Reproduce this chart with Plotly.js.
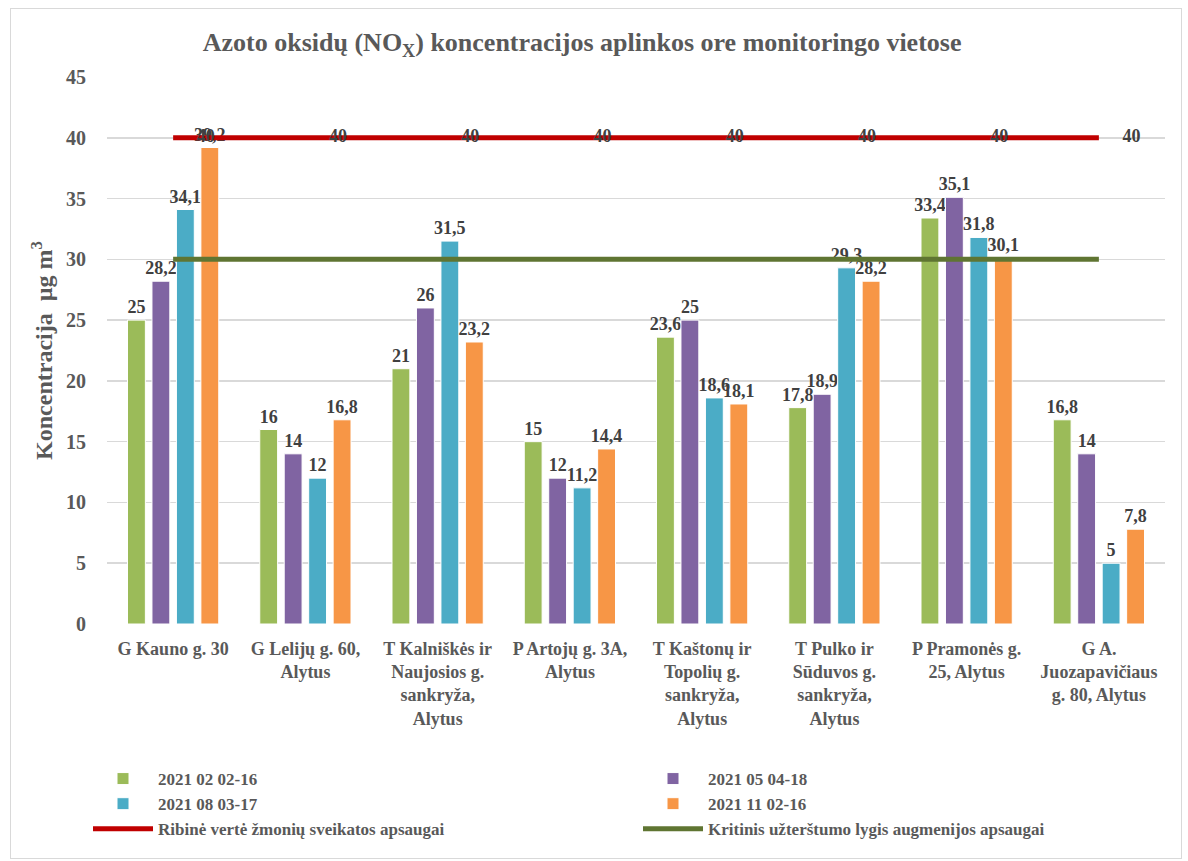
<!DOCTYPE html>
<html>
<head>
<meta charset="utf-8">
<script src="https://cdn.plot.ly/plotly-3.0.1.min.js"></script>
<style>
  html, body { margin: 0; padding: 0; background: #ffffff; }
  #frame { position: absolute; left: 10px; top: 8px; width: 1172px; height: 851px; border: 1px solid #d9d9d9; box-sizing: border-box; pointer-events: none; }
  #chart { position: absolute; left: 0; top: 0; width: 1188px; height: 861px; }
</style>
</head>
<body>
<div id="chart"></div>
<div id="frame"></div>
<script>
// ---- data ----
const categories = [
  "G Kauno g. 30",
  "G Lelijų g. 60,<br>Alytus",
  "T Kalniškės ir<br>Naujosios g.<br>sankryža,<br>Alytus",
  "P Artojų g. 3A,<br>Alytus",
  "T Kaštonų ir<br>Topolių g.<br>sankryža,<br>Alytus",
  "T Pulko ir<br>Sūduvos g.<br>sankryža,<br>Alytus",
  "P Pramonės g.<br>25, Alytus",
  "G A.<br>Juozapavičiaus<br>g. 80, Alytus"
];
const seriesNames = ["2021 02 02-16", "2021 05 04-18", "2021 08 03-17", "2021 11 02-16"];
const vasaris = [25, 16, 21, 15, 23.6, 17.8, 33.4, 16.8];
const geguze  = [28.2, 14, 26, 12, 25, 18.9, 35.1, 14];
const rugpjutis = [34.1, 12, 31.5, 11.2, 18.6, 29.3, 31.8, 5];
const lapkritis = [39.2, 16.8, 23.2, 14.4, 18.1, 28.2, 30.1, 7.8];
const ribineName = "Ribinė vertė žmonių sveikatos apsaugai";
const ribine = [40, 40, 40, 40, 40, 40, 40, 40];
const kritinisName = "Kritinis užterštumo lygis augmenijos apsaugai";
const kritinis = [30, 30, 30, 30, 30, 30, 30, 30];
const yTicks = [0, 5, 10, 15, 20, 25, 30, 35, 40, 45];

// ---- styles ----
const FONT = "Liberation Serif, Times New Roman, serif";
const barColors = ["#9bbb59", "#8064a2", "#4bacc6", "#f79646"];
const fmt = v => String(v).replace(".", ",");
const labelFont = {family: FONT, size: 18, color: "#404040", weight: "bold"};

const seriesValues = [vasaris, geguze, rugpjutis, lapkritis];
const traces = seriesValues.map((vals, i) => ({
  type: "bar",
  name: seriesNames[i],
  x: categories,
  y: vals,
  text: vals.map(fmt),
  textposition: "outside",
  textangle: 0,
  constraintext: "none",
  cliponaxis: false,
  textfont: labelFont,
  outsidetextfont: labelFont,
  marker: {color: barColors[i], line: {color: "#ffffff", width: 1}},
  hoverinfo: "x+y"
}));

traces.push({
  type: "scatter",
  mode: "lines+markers+text",
  name: ribineName,
  x: categories,
  y: ribine,
  text: ribine.map(fmt),
  textposition: "middle right",
  textfont: labelFont,
  cliponaxis: false,
  line: {color: "#c00000", width: 5},
  marker: {size: 36, color: "rgba(0,0,0,0)"}
});
traces.push({
  type: "scatter",
  mode: "lines",
  name: kritinisName,
  x: categories,
  y: kritinis,
  cliponaxis: false,
  line: {color: "#5f7532", width: 5}
});

const layout = {
  width: 1188,
  height: 861,
  paper_bgcolor: "#ffffff",
  plot_bgcolor: "#ffffff",
  separators: ", ",
  margin: {l: 107, r: 23, t: 77, b: 237},
  font: {family: FONT, color: "#595959"},
  title: {
    text: "Azoto oksidų (NO<sub>X</sub>) koncentracijos aplinkos ore monitoringo vietose",
    font: {family: FONT, size: 26, color: "#595959", weight: "bold"},
    xref: "container", x: 0.49, xanchor: "center",
    yref: "container", y: 0.951, yanchor: "middle"
  },
  barmode: "group",
  bargap: 0.26,
  bargroupgap: 0.27,
  showlegend: true,
  legend: {
    orientation: "h",
    xref: "paper", x: -0.001, xanchor: "left",
    yref: "paper", y: -0.2505, yanchor: "top",
    entrywidth: 475, entrywidthmode: "pixels",
    font: {family: FONT, size: 17, color: "#595959", weight: "bold"},
    traceorder: "normal",
    itemwidth: 60
  },
  xaxis: {
    type: "category",
    range: [-0.5, 7.5],
    autorange: false,
    showgrid: false,
    showline: false,
    zeroline: false,
    ticks: "outside",
    ticklen: 8,
    tickcolor: "rgba(0,0,0,0)",
    tickfont: {family: FONT, size: 18, color: "#595959", weight: "bold"},
    tickangle: 0,
    automargin: false
  },
  yaxis: {
    range: [0, 45],
    autorange: false,
    tickvals: yTicks,
    ticktext: yTicks.map(String),
    showgrid: true,
    gridcolor: "#d9d9d9",
    gridwidth: 1.5,
    zeroline: false,
    showline: false,
    ticks: "outside",
    ticklen: 16,
    tickcolor: "rgba(0,0,0,0)",
    tickfont: {family: FONT, size: 20, color: "#595959", weight: "bold"},
    automargin: false,
    title: {
      text: "Koncentracija  µg m<sup>3</sup>",
      font: {family: FONT, size: 24, color: "#595959", weight: "bold"},
      standoff: 6
    }
  }
};

Plotly.newPlot("chart", traces, layout, {displayModeBar: false, staticPlot: true});
</script>
</body>
</html>
